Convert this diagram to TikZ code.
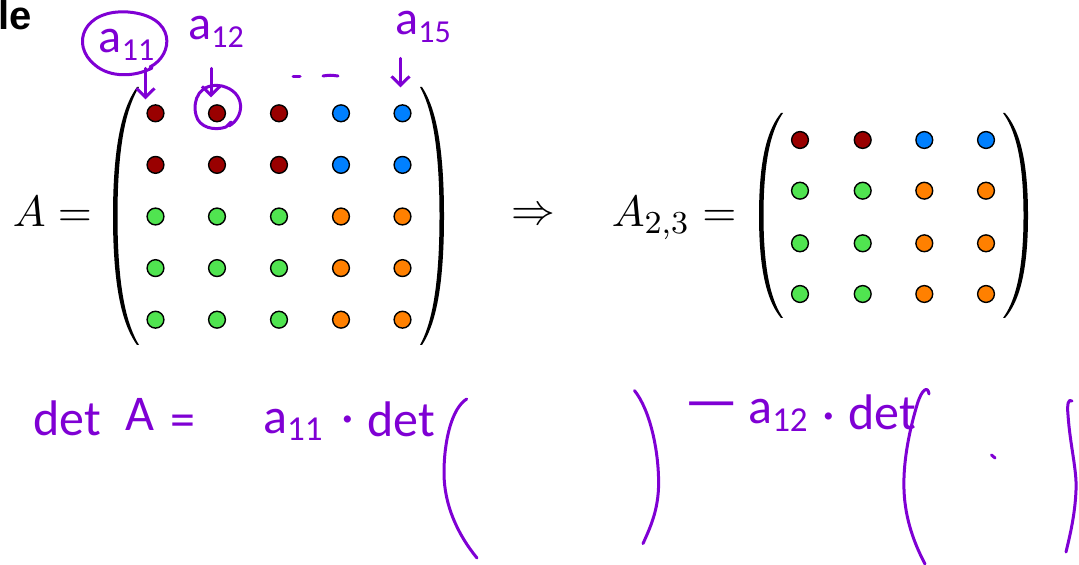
\documentclass[tikz,border=0pt]{standalone}
\usepackage{fontspec}
\newfontfamily\handfont{Carlito}
\newfontfamily\titlefont{Liberation Sans}
\usetikzlibrary{arrows.meta, calc}

\definecolor{dotred}{RGB}{153,0,0}
\definecolor{dotblue}{RGB}{0,128,255}
\definecolor{dotgreen}{RGB}{80,228,80}
\definecolor{dotorange}{RGB}{255,128,0}
\definecolor{pen}{RGB}{127,0,212}

% tip x, belly x, top y, bottom y, side (1 left, -1 right)
\newcommand{\bigparen}[5]{%
	\pgfmathsetmacro{\pH}{#4-#3}
	\pgfmathsetmacro{\pM}{#3+0.5*\pH}
	\pgfmathsetmacro{\pUa}{#3+0.07*\pH}
	\pgfmathsetmacro{\pUb}{#3+0.2*\pH}
	\pgfmathsetmacro{\pDa}{#4-0.07*\pH}
	\pgfmathsetmacro{\pDb}{#4-0.2*\pH}
	\pgfmathsetmacro{\pC}{#1-0.54*(#1-#2)}
	\pgfmathsetmacro{\pCi}{\pC+4*(#5)}
	\pgfmathsetmacro{\pBi}{#2+4.5*(#5)}
	\pgfmathsetmacro{\pTi}{#1+2*(#5)}
	\fill (#1,#3) .. controls (\pC,\pUa) and (#2,\pUb) .. (#2,\pM)
		.. controls (#2,\pDb) and (\pC,\pDa) .. (#1,#4)
		-- (\pTi,#4) .. controls (\pCi,\pDa) and (\pBi,\pDb) .. (\pBi,\pM)
		.. controls (\pBi,\pUb) and (\pCi,\pUa) .. (\pTi,#3) -- cycle;
}

\tikzset{
	entry/.style={circle, draw=black, line width=0.35pt, minimum size=4.2pt, inner sep=0pt},
	mathtext/.style={inner sep=0pt, font=\fontsize{10.95}{13}\selectfont},
	hand/.style={draw=pen, line width=0.75pt, line cap=round, line join=round},
	handarrow/.style={hand, -{Straight Barb[length=2.2pt, width=4.5pt]}},
	handtext/.style={text=pen, inner sep=0pt, font=\handfont\fontsize{12}{14}\selectfont},
	handbig/.style={handtext, font=\handfont\fontsize{12.5}{15}\selectfont},
}

\begin{document}
\begin{tikzpicture}[x=0.25pt, y=-0.25pt]
	\useasboundingbox (0,0) rectangle (1079,565);

	\node[anchor=base west, inner sep=0pt, font=\titlefont\bfseries\fontsize{10}{12}\selectfont] (title) at (-2,30) {le};

	% matrix A
	\node[mathtext, anchor=base west] (lhsA) at (12,227) {$A =$};
	\foreach \row/\y/\cleft/\cright in {
		1/113.3/dotred/dotblue,
		2/164.9/dotred/dotblue,
		3/216.5/dotgreen/dotorange,
		4/268.1/dotgreen/dotorange,
		5/319.7/dotgreen/dotorange} {
		\foreach \col/\x in {1/155.5, 2/217, 3/279}
			\node[entry, fill=\cleft] (A-\row-\col) at (\x,\y) {};
		\foreach \col/\x in {4/341, 5/402.5}
			\node[entry, fill=\cright] (A-\row-\col) at (\x,\y) {};
	}
	\bigparen{137}{113}{87}{345}{1}
	\bigparen{422}{444}{87}{345}{-1}

	\node[mathtext] (impl) at (533,216.5) {$\Rightarrow$};

	% minor A_{2,3}
	\node[mathtext, anchor=base west] (lhsB) at (611,227) {$A_{2,3} =$};
	\foreach \row/\y/\cleft/\cright in {
		1/140/dotred/dotblue,
		2/190.7/dotgreen/dotorange,
		3/243.3/dotgreen/dotorange,
		4/294/dotgreen/dotorange} {
		\foreach \col/\x in {1/800, 2/862.7}
			\node[entry, fill=\cleft] (B-\row-\col) at (\x,\y) {};
		\foreach \col/\x in {3/924.3, 4/986}
			\node[entry, fill=\cright] (B-\row-\col) at (\x,\y) {};
	}
	\bigparen{781}{759}{113}{318}{1}
	\bigparen{1005}{1028}{113}{318}{-1}

	% pen notes on the first row
	\node[handtext, anchor=base] (l11) at (127.5,53) {a\textsubscript{11}};
	\node[handtext, anchor=base] (l12) at (217,40) {a\textsubscript{12}};
	\node[handtext, anchor=base] (l15) at (424,35) {a\textsubscript{15}};
	\draw[hand] (150,67) .. controls (174,55) and (177,16) .. (128,12)
		.. controls (83,9) and (70,45) .. (95,65)
		.. controls (110,78) and (135,77) .. (152,68);
	\draw[handarrow] ($(A-1-1)+(-10,-45)$) -- ($(A-1-1)+(-10,-14)$);
	\draw[handarrow] ($(A-1-2)+(-6,-45)$) -- ($(A-1-2)+(-6,-16)$);
	\draw[handarrow] ($(A-1-5)+(-2,-55)$) -- ($(A-1-5)+(-2,-26)$);
	\draw[hand] (229,126) .. controls (245,117) and (246,92) .. (222,86)
		.. controls (200,82) and (192,100) .. (196,115)
		.. controls (199,128) and (215,131) .. (226,127) -- (231,122);
	\draw[hand] (293,77) -- (300,77);
	\draw[hand] (323,76) .. controls (330,75) .. (338,76);

	% expansion
	\node[handbig, anchor=base] (det0) at (67,435) {det};
	\node[handbig, anchor=base] (detA) at (140,430) {A};
	\node[handbig, anchor=base] (eq) at (182.5,436) {=};
	\node[handbig, anchor=base] (c11) at (294,433) {a\textsubscript{11}};
	\node[handbig, anchor=base] (dot1) at (348,433) {·};
	\node[handbig, anchor=base] (det1) at (401,436) {det};
	\node[handtext, anchor=base, font=\handfont\fontsize{15}{17}\selectfont] (minus) at (711.5,420) {—};
	\node[handbig, anchor=base] (c12) at (779,424) {a\textsubscript{12}};
	\node[handbig, anchor=base] (dot2) at (829,430) {·};
	\node[handbig, anchor=base] (det2) at (882,429) {det};

	\draw[hand] (466.7,399) .. controls (452,408) and (444,440) .. (444,473)
		.. controls (444,505) and (458,535) .. (477,558);
	\draw[hand] (634.5,390.6) .. controls (650,410) and (658.6,450) .. (658.6,483)
		.. controls (658.6,510) and (650,528) .. (643,543.6);
	\draw[hand] (929,394) .. controls (928,386) and (922,388) .. (917,405)
		.. controls (908,435) and (903,465) .. (904,490)
		.. controls (905,520) and (915,545) .. (925,564);
	\draw[hand] (1072,401) .. controls (1068,398) and (1067,405) .. (1068,415)
		.. controls (1070,445) and (1077,470) .. (1076,490)
		.. controls (1075,515) and (1070,535) .. (1066,552);
	\draw[hand] (991.5,455) -- (995,458);
\end{tikzpicture}
\end{document}
